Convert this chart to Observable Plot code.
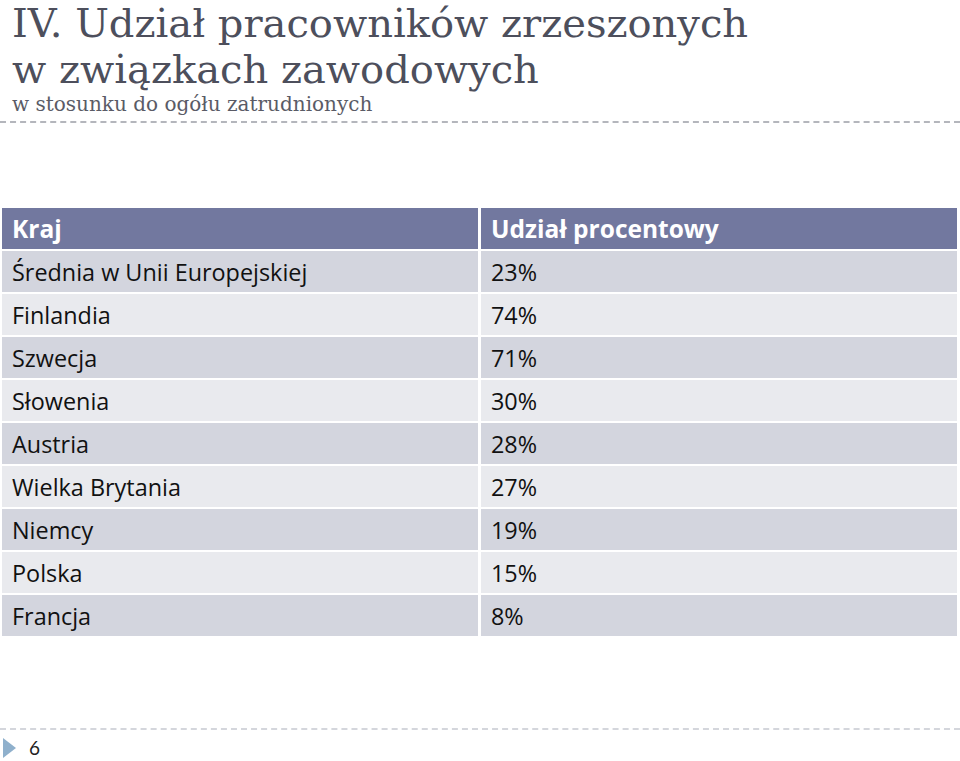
<!DOCTYPE html>
<html><head><meta charset="utf-8">
<script src="https://cdn.jsdelivr.net/npm/d3@7"></script>
<script src="https://cdn.jsdelivr.net/npm/@observablehq/plot@0.6"></script>
<style>
html,body{margin:0;padding:0;background:#fff;width:960px;height:761px;overflow:hidden;}
.title{position:absolute;left:12px;font-family:"DejaVu Serif",serif;color:#4d4f5c;font-size:40px;line-height:40px;white-space:nowrap;}
#t1{top:3px;}
#t2{top:49px;}
#sub{position:absolute;left:12px;top:92px;font-family:"DejaVu Serif",serif;color:#5a5b66;font-size:20px;line-height:24px;white-space:nowrap;}
#dash1{position:absolute;left:0;top:121px;width:960px;border-top:2px dashed #b4b6bc;}
#dash2{position:absolute;left:0;top:728px;width:960px;border-top:2px dashed #d4d6dc;}
#tri{position:absolute;left:3px;top:738px;width:0;height:0;border-top:10px solid transparent;border-bottom:10px solid transparent;border-left:13px solid #8fb0cc;}
#pg{position:absolute;left:29px;top:736px;font-family:"Lato",sans-serif;font-size:19px;color:#222;}
#chart{position:absolute;left:0;top:200px;}
</style></head>
<body>
<div class="title" id="t1">IV. Udział pracowników zrzeszonych</div>
<div class="title" id="t2">w związkach zawodowych</div>
<div id="sub">w stosunku do ogółu zatrudnionych</div>
<div id="dash1"></div>
<div id="dash2"></div>
<div id="tri"></div>
<div id="pg">6</div>
<div id="chart"></div>
<script>
const columns = ["Kraj", "Udział procentowy"];
const countries = ["Średnia w Unii Europejskiej","Finlandia","Szwecja","Słowenia","Austria","Wielka Brytania","Niemcy","Polska","Francja"];
const shares = [23, 74, 71, 30, 28, 27, 19, 15, 8];

const rowKeys = ["header", ...countries];
const cells = [];
rowKeys.forEach((r, i) => {
  columns.forEach((c, j) => {
    let text, kind;
    if (i === 0) { text = c; kind = "header"; }
    else { text = j === 0 ? countries[i-1] : shares[i-1] + "%"; kind = (i % 2 === 1) ? "odd" : "even"; }
    cells.push({row: r, col: c, text, kind});
  });
});

const W = 960, H = 440;
const bandW = 477;
const plot = Plot.plot({
  width: W, height: H,
  marginTop: 7, marginBottom: 3, marginLeft: 2, marginRight: 2,
  x: {domain: columns, paddingInner: 0.006, paddingOuter: 0, axis: null},
  y: {domain: rowKeys, paddingInner: 0.05, paddingOuter: 0, axis: null},
  color: {domain: ["header","odd","even"], range: ["#72789f","#d3d5de","#e9eaee"]},
  style: {fontFamily: "'Open Sans', sans-serif", background: "transparent"},
  marks: [
    Plot.cell(cells, {x: "col", y: "row", fill: "kind"}),
    Plot.text(cells.filter(d => d.kind !== "header"), {x: "col", y: "row", text: "text", textAnchor: "start", dx: -bandW/2 + 10, fontSize: 23.4, fill: "#111", dy: 1}),
    Plot.text(cells.filter(d => d.kind === "header"), {x: "col", y: "row", text: "text", textAnchor: "start", dx: -bandW/2 + 10, fontSize: 24.5, fontWeight: "bold", fill: "#ffffff", dy: 1})
  ]
});
document.getElementById("chart").appendChild(plot);
</script>
</body></html>
